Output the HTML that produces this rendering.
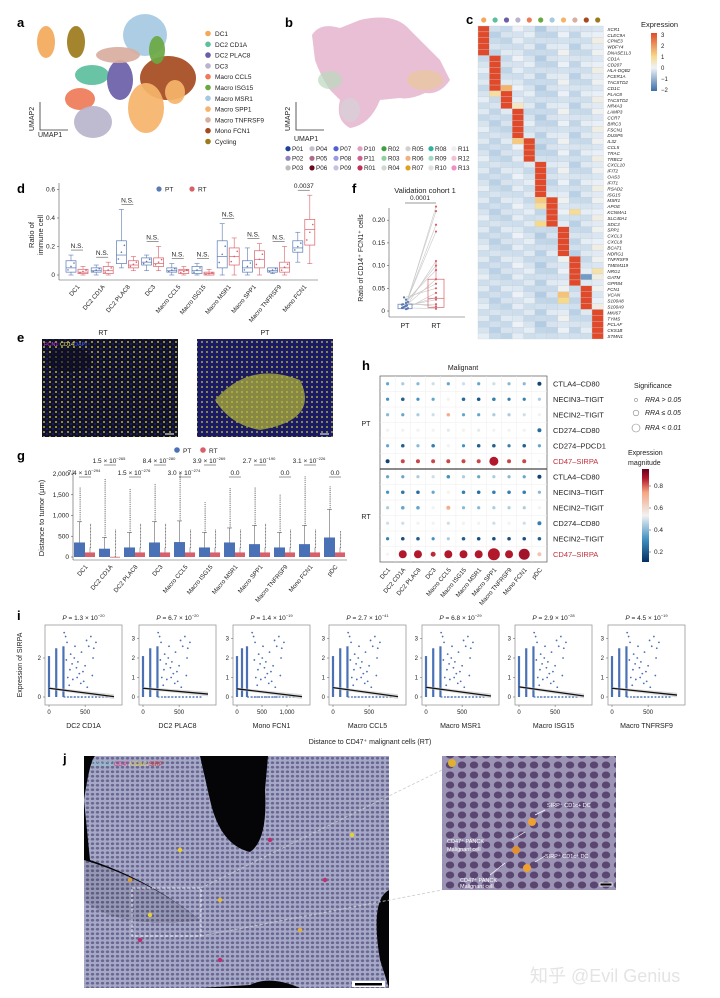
<!DOCTYPE html>
<html><head><meta charset="utf-8">
<style>
html,body{margin:0;padding:0;background:#fff;}
svg{display:block;font-family:"Liberation Sans","Noto Sans CJK SC",sans-serif;}
</style></head>
<body>
<svg id="fig" width="720" height="998" viewBox="0 0 720 998" xmlns="http://www.w3.org/2000/svg">
<defs>
<pattern id="cells" width="5" height="4.5" patternUnits="userSpaceOnUse"><rect width="5" height="4.5" fill="#a6a9c8"/><ellipse cx="2.5" cy="2.25" rx="1.7" ry="1.4" fill="#6b6790"/></pattern>
<pattern id="cells2" width="12" height="10" patternUnits="userSpaceOnUse"><rect width="12" height="10" fill="#9b94b4"/><ellipse cx="6" cy="5" rx="4.2" ry="3.5" fill="#5a4670"/></pattern>
<pattern id="dotsY" width="6" height="5" patternUnits="userSpaceOnUse"><rect width="6" height="5" fill="#10102a"/><circle cx="2" cy="2" r="1" fill="#b8b828"/><circle cx="5" cy="4" r="0.7" fill="#3030a0"/></pattern>
<pattern id="dotsY2" width="5" height="5" patternUnits="userSpaceOnUse"><rect width="5" height="5" fill="#1a1860"/><circle cx="2" cy="2" r="1.1" fill="#c8c830"/></pattern>
<linearGradient id="expGrad" x1="0" y1="1" x2="0" y2="0"><stop offset="0" stop-color="#3a6fa8"/><stop offset="0.4" stop-color="#eef3f8"/><stop offset="0.6" stop-color="#f7d98a"/><stop offset="1" stop-color="#e04a2a"/></linearGradient>
<linearGradient id="magGrad" x1="0" y1="1" x2="0" y2="0"><stop offset="0" stop-color="#053061"/><stop offset="0.25" stop-color="#4393c3"/><stop offset="0.5" stop-color="#f2f2f2"/><stop offset="0.75" stop-color="#f4a582"/><stop offset="0.9" stop-color="#b2182b"/><stop offset="1" stop-color="#67001f"/></linearGradient>
</defs>
<g id="root"></g>
</svg>
<script>
// ---------- data ----------
const aClusters=["DC1","DC2 CD1A","DC2 PLAC8","DC3","Macro CCL5","Macro ISG15","Macro MSR1","Macro SPP1","Macro TNFRSF9","Mono FCN1","Cycling"];
const aColors=["#f4a95a","#5cbf9d","#6a5ea8","#b9b4cc","#ee7b58","#6aa842","#a6c9e2","#f5b46a","#d8aea0","#a54a20","#9c7a1a"];
const bSamples=["P01","P02","P03","P04","P05","P06","P07","P08","P09","P10","P11","R01","R02","R03","R04","R05","R06","R07","R08","R09","R10","R11","R12","R13"];
const bColors=["#1f3f9a","#8c85bd","#bdbdbd","#c0c0cc","#b06a8a","#6a0a20","#5060d0","#9a9ae0","#c8c0e0","#e0a0c0","#d06090","#c0305a","#40a040","#90d0a0","#d0d8d0","#d0d0d0","#f0b080","#e0a020","#30b0a0","#a0d8c8","#e0e0e0","#eeeeee","#f4c0d0","#f090c0"];
const genes=["XCR1","CLEC9A","CPNE3","WDFY4","DNASE1L3","CD1A","CD207","HLA-DQB2","FCER1A","TACSTD2","CD1C","PLAC8","TACSTD2","NR4A3","LAMP3","CCR7","BIRC3","FSCN1","DUSP5","IL32","CCL5","TRAC","TRBC2","CXCL10","IFIT2","OAS3","IFIT1","RSAD2","ISG15","MSR1","APOE","KCNMA1","SLC40A1","SDC3","SPP1","CXCL3","CXCL8","BCAT1","NDRG1","TNFRSF9","TMEM119","NRG1","GATM","GPR84","FCN1","VCAN","S100A8","S100A9","MKI67","TYMS","PCLAF","CKS1B","STMN1"];
const geneCluster=[0,0,0,0,0,1,1,1,1,1,1,2,2,2,3,3,3,3,3,4,4,4,4,5,5,5,5,5,5,6,6,6,6,6,7,7,7,7,7,8,8,8,8,8,9,9,9,9,10,10,10,10,10];
const colBg=[-0.6,-0.8,-0.7,-0.5,-0.6,-0.9,-0.7,-0.4,-0.8,-0.6,-0.3];
const heatExtra=[[10,2,1.5],[11,1,0.8],[13,3,0.5],[19,3,1.2],[29,5,1.2],[30,5,0.8],[33,5,1.0],[31,8,0.9],[45,7,1.3],[46,7,1.0],[42,9,-1.5],[41,10,0.7]];
const dCats=["DC1","DC2 CD1A","DC2 PLAC8","DC3","Macro CCL5","Macro ISG15","Macro MSR1","Macro SPP1","Macro TNFRSF9","Mono FCN1"];
const dPT=[[0,0.02,0.05,0.1,0.14],[0,0.02,0.03,0.05,0.07],[0.05,0.08,0.14,0.24,0.46],[0.03,0.07,0.09,0.12,0.14],[0,0.02,0.03,0.05,0.08],[0,0.01,0.03,0.06,0.08],[0,0.05,0.13,0.24,0.36],[0,0.02,0.05,0.1,0.19],[0.01,0.02,0.03,0.05,0.05],[0.09,0.16,0.19,0.24,0.3]];
const dRT=[[0,0.01,0.02,0.04,0.06],[0,0.01,0.03,0.06,0.09],[0.03,0.05,0.07,0.1,0.13],[0.03,0.06,0.08,0.12,0.2],[0,0.01,0.03,0.04,0.06],[0,0,0.01,0.02,0.04],[0,0.07,0.13,0.19,0.26],[0,0.05,0.11,0.17,0.22],[0,0.02,0.05,0.09,0.2],[0.08,0.21,0.32,0.39,0.56]];
const dP=["N.S.","N.S.","N.S.","N.S.","N.S.","N.S.","N.S.","N.S.","N.S.","0.0037"];
const dTicks=[0,0.2,0.4,0.6];
const fPT=[0.005,0.008,0.01,0.012,0.006,0.015,0.02,0.01,0.025,0.03,0.004,0.009,0.011,0.014,0.018,0.007];
const fRT=[0.23,0.22,0.19,0.175,0.11,0.1,0.09,0.07,0.06,0.05,0.04,0.03,0.025,0.015,0.01,0.005];
const fTicks=[0,0.05,0.1,0.15,0.2];
const gCats=["DC1","DC2 CD1A","DC2 PLAC8","DC3","Macro CCL5","Macro ISG15","Macro MSR1","Macro SPP1","Macro TNFRSF9","Mono FCN1","pDC"];
const gPTq3=[350,200,230,350,360,230,350,310,230,310,470];
const gPTq1=[20,10,10,20,20,10,120,20,10,20,20];
const gPTwh=[850,470,590,850,870,590,700,760,590,760,1150];
const gPTmax=[1700,1900,1650,1750,2000,1350,1650,1700,1500,1950,1700];
const gRTq3=[110,5,110,110,110,110,110,110,110,110,110];
const gRTwh=[230,20,230,230,230,230,230,230,230,230,230];
const gRTmax=[800,680,800,800,680,680,680,800,680,680,640];
const gPv=[["7.4","−294",0],["1.5","−265",1],["1.5","−276",0],["8.4","−280",1],["3.0","−274",0],["3.9","−269",1],["0.0","",0],["2.7","−190",1],["0.0","",0],["3.1","−226",1],["0.0","",0]];
const gTicks=[0,500,1000,1500,2000];
const hCols=["DC1","DC2 CD1A","DC2 PLAC8","DC3","Macro CCL5","Macro ISG15","Macro MSR1","Macro SPP1","Macro TNFRSF9","Mono FCN1","pDC"];
const hRows=["CTLA4–CD80","NECIN3–TIGIT","NECIN2–TIGIT","CD274–CD80","CD274–PDCD1","CD47–SIRPA","CTLA4–CD80","NECIN3–TIGIT","NECIN2–TIGIT","CD274–CD80","NECIN2–TIGIT","CD47–SIRPA"];
const hMag=[
[0.3,0.4,0.35,0.45,0.3,0.45,0.3,0.45,0.35,0.35,0.05],
[0.25,0.12,0.25,0.3,0.5,0.15,0.1,0.2,0.2,0.2,0.4],
[0.35,0.3,0.4,0.45,0.72,0.3,0.3,0.4,0.4,0.45,0.5],
[0.5,0.5,0.5,0.5,0.48,0.5,0.48,0.5,0.5,0.5,0.15],
[0.3,0.12,0.35,0.2,0.5,0.25,0.12,0.12,0.2,0.12,0.3],
[0.05,0.85,0.85,0.85,0.85,0.85,0.85,0.9,0.85,0.85,0.5],
[0.3,0.3,0.4,0.45,0.25,0.4,0.3,0.4,0.35,0.3,0.05],
[0.25,0.18,0.15,0.3,0.5,0.2,0.15,0.2,0.2,0.2,0.35],
[0.4,0.3,0.3,0.5,0.72,0.35,0.35,0.4,0.4,0.4,0.5],
[0.45,0.45,0.5,0.5,0.45,0.5,0.5,0.45,0.5,0.45,0.2],
[0.2,0.08,0.12,0.25,0.4,0.12,0.08,0.08,0.08,0.08,0.12],
[0.5,0.9,0.9,0.88,0.9,0.9,0.9,0.9,0.9,0.92,0.65]];
const hSize=[
[1.6,1.6,1.6,1.6,1.6,1.6,1.6,1.6,1.6,1.6,2],
[1.6,1.8,1.6,1.6,1.6,1.8,1.8,1.8,1.6,1.6,1.6],
[1.6,1.6,1.6,1.6,1.8,1.6,1.6,1.6,1.6,1.6,1.6],
[1.6,1.6,1.6,1.6,1.6,1.6,1.6,1.6,1.6,1.6,2],
[1.6,1.8,1.6,1.8,1.6,1.6,1.8,1.8,1.6,1.8,1.6],
[2,2,2,2,2,2,2,4.5,2,2,1.2],
[1.6,1.6,1.6,1.6,1.8,1.6,1.6,1.6,1.6,1.6,2],
[1.6,1.8,1.8,1.6,1.6,1.8,1.8,1.8,1.8,1.8,1.6],
[1.6,1.8,1.8,1.6,2,1.6,1.6,1.6,1.6,1.6,1.6],
[1.6,1.6,1.6,1.6,1.6,1.6,1.6,1.6,1.6,1.6,2],
[1.6,1.8,1.8,1.6,1.6,1.8,1.8,1.8,1.8,1.8,1.8],
[1.5,4,4,2.5,4,4,4,6,4,5.5,2]];
const iCats=["DC2 CD1A","DC2 PLAC8","Mono FCN1","Macro CCL5","Macro MSR1","Macro ISG15","Macro TNFRSF9"];
const iP=[["1.3","−20"],["6.7","−20"],["1.4","−19"],["2.7","−41"],["6.8","−29"],["2.9","−28"],["4.5","−19"]];
const iXmax=[900,900,1300,900,900,900,900];
const iXticks=[[0,500],[0,500],[0,500,1000],[0,500],[0,500],[0,500],[0,500]];
const iYticks=[[0,2],[0,1,2,3],[0,1,2,3],[0,1,2,3],[0,1,2,3],[0,1,2,3],[0,1,2,3]];
const iStrips=[[0,2.1],[100,2.5],[200,2.6]];
const iLine=[[0.45,0.02],[0.45,0.15],[0.42,0.02],[0.48,0.02],[0.5,0.05],[0.52,0.05],[0.45,0.1]];
const iPts=[[210,3.3],[230,3.1],[250,2.8],[300,2.2],[320,1.7],[350,2.0],[380,1.5],[400,1.8],[420,1.2],[450,2.3],[480,0.8],[500,1.6],[520,2.9],[550,2.6],[580,3.1],[600,1.1],[620,2.5],[650,2.8],[260,1.0],[280,0.6],[330,0.9],[360,2.6],[440,0.7],[470,1.3],[530,0.5],[610,2.0],[240,1.9],[290,1.4],[390,1.0]];
const iZeroX=[300,350,400,450,500,550,600,650,700,750,800];

// ---------- helpers ----------
const NS="http://www.w3.org/2000/svg";
const root=document.getElementById("root");
function el(tag,attrs,parent,txt){const e=document.createElementNS(NS,tag);for(const k in attrs)e.setAttribute(k,attrs[k]);if(txt!==undefined)e.textContent=txt;(parent||root).appendChild(e);return e;}
function grp(name,parent){const g=el("g",{},parent);


return g;}
function txt(parent,x,y,s,size,opts){opts=opts||{};const t=el("text",Object.assign({x:x,y:y,"font-size":size,fill:"#222"},opts),parent,s);return t;}
function panelLabel(l,x,y){const g=grp("panel-label-"+l);txt(g,x,y,l,13,{"font-weight":"bold",fill:"#000"});}

// ---------- panel a ----------
panelLabel("a",17,27);
(function(){
 const g=grp("umap-a");
 const blobs=[[6,145,35,22,21],[9,168,78,28,22],[7,146,108,18,25],[5,157,50,8,14],[0,46,42,9,16],[10,76,42,9,16],[1,92,75,17,10],[2,120,80,13,20],[8,118,55,22,8],[4,80,99,15,11],[3,93,122,19,16],[7,175,92,10,12]];
 blobs.forEach((b,i)=>{const e=el("ellipse",{cx:b[1],cy:b[2],rx:b[3],ry:b[4],fill:aColors[b[0]],opacity:0.92},g);
 
 });
 el("path",{d:"M40 102 V130 H68",stroke:"#333",fill:"none","stroke-width":0.8},g);
 txt(g,38,137,"UMAP1",7);
 txt(g,34,131,"UMAP2",7,{transform:"rotate(-90 34 131)"});
 const lg=grp("legend-a");
 aClusters.forEach((c,i)=>{const y=36+i*10.8;
  const it=grp("legend-entry-"+c.toLowerCase().replace(/ /g,'-'),lg);
  el("circle",{cx:208,cy:y-2.5,r:2.8,fill:aColors[i]},it);txt(it,215,y,c,6.5);});
})();

// ---------- panel b ----------
panelLabel("b",285,27);
(function(){
 const g=grp("umap-b");
 el("path",{d:"M312 35 Q320 22 340 28 L360 20 Q395 12 410 30 Q425 45 440 60 L450 80 Q440 95 425 93 Q410 100 400 98 L380 100 Q370 125 350 128 Q335 120 340 100 L330 90 Q320 75 315 60 Z",fill:"#e5b8cf",opacity:0.9},g);
 el("ellipse",{cx:425,cy:80,rx:18,ry:10,fill:"#e9c79a",opacity:0.7},g);
 el("ellipse",{cx:330,cy:80,rx:12,ry:9,fill:"#b9d8bd",opacity:0.7},g);
 el("ellipse",{cx:350,cy:110,rx:10,ry:12,fill:"#d8d0d8",opacity:0.8},g);
 el("path",{d:"M296 102 V130 H324",stroke:"#333",fill:"none","stroke-width":0.8},g);
 txt(g,294,141,"UMAP1",7);
 txt(g,290,131,"UMAP2",7,{transform:"rotate(-90 290 131)"});
 const lg=grp("legend-b");
 const colX=[288,312,336,360,384,408,431,454];
 bSamples.forEach((s,i)=>{const c=Math.floor(i/3),r=i%3;const x=colX[c],y=151+r*9.6;
  const it=grp("legend-entry-"+s.toLowerCase(),lg);
  el("circle",{cx:x,cy:y-2.3,r:2.6,fill:bColors[i]},it);txt(it,x+4,y,s,6.3);});
})();

// ---------- panel c ----------
(function(){
 const g=grp("heatmap-c");
 txt(g,466,24,"c",13,{"font-weight":"bold",fill:"#000"});
 const x0=478,y0=26,cw=11.4,rh=(339-26)/genes.length;
 function hc(v){const s=[[-2,[58,111,168]],[-1,[170,200,225]],[0,[238,243,248]],[1,[247,217,138]],[2,[240,140,80]],[3,[224,74,42]]];
  v=Math.max(-2,Math.min(3,v));for(let i=0;i<s.length-1;i++){if(v<=s[i+1][0]){const t=(v-s[i][0])/(s[i+1][0]-s[i][0]);const c=s[i][1].map((a,k)=>Math.round(a+(s[i+1][1][k]-a)*t));return "rgb("+c+")";}}return "rgb(224,74,42)";}
 aColors.forEach((c,j)=>{const d=el("circle",{cx:x0+cw*j+cw/2,cy:20,r:2.6,fill:c},g);
  
  });
 genes.forEach((gn,i)=>{
  for(let j=0;j<11;j++){let v=geneCluster[i]===j?3:colBg[j]+((i*7+j*3)%5)*0.12;
   heatExtra.forEach(e=>{if(e[0]===i&&e[1]===j)v=e[2];});
   const r=el("rect",{x:x0+cw*j,y:y0+rh*i,width:cw,height:rh,fill:hc(v),stroke:"#c8ccd4","stroke-width":0.3},g);
   
   }
  txt(g,x0+cw*11+4,y0+rh*i+rh-1,gn,4.6,{"font-style":"italic"});
 });
 const lg=grp("expression-legend",g);
 txt(lg,641,27,"Expression",7.5);
 el("rect",{x:651,y:33,width:6,height:58,fill:"url(#expGrad)"},lg);
 [["3",35],["2",46],["1",57],["0",68],["−1",79],["−2",90]].forEach(t=>{txt(lg,661,t[1]+2,t[0],6);});
})();

// ---------- panel d ----------
panelLabel("d",17,193);
(function(){
 const g=grp("boxplot-d");
 const ax=59,y0=275,sc=28.5/0.2;const yv=v=>y0-v*sc;
 el("line",{x1:ax,y1:183,x2:ax,y2:y0+5,stroke:"#555","stroke-width":0.6},g);
 el("line",{x1:ax,y1:y0+5,x2:318,y2:y0+5,stroke:"#555","stroke-width":0.6},g);
 dTicks.forEach(t=>{el("line",{x1:ax-2,y1:yv(t),x2:ax,y2:yv(t),stroke:"#555","stroke-width":0.6},g);txt(g,ax-4,yv(t)+2,String(t),6.5,{"text-anchor":"end"});});
 txt(g,34,235,"Ratio of",7.5,{transform:"rotate(-90 34 235)","text-anchor":"middle"});
 txt(g,43,235,"immune cell",7.5,{transform:"rotate(-90 43 235)","text-anchor":"middle"});
 const lg=grp("legend-d",g);el("circle",{cx:159,cy:189,r:2.6,fill:"#5a7ab5"},lg);txt(lg,165,191.5,"PT",6.5);el("circle",{cx:192,cy:189,r:2.6,fill:"#d9606a"},lg);txt(lg,198,191.5,"RT",6.5);
 function box(d,cx,col,name){const b=grp(name,g);
  el("line",{x1:cx,y1:yv(d[0]),x2:cx,y2:yv(d[4]),stroke:col,"stroke-width":0.6},b);
  el("line",{x1:cx-2.5,y1:yv(d[4]),x2:cx+2.5,y2:yv(d[4]),stroke:col,"stroke-width":0.6},b);
  el("line",{x1:cx-2.5,y1:yv(d[0]),x2:cx+2.5,y2:yv(d[0]),stroke:col,"stroke-width":0.6},b);
  el("rect",{x:cx-5,y:yv(d[3]),width:10,height:Math.max(1,yv(d[1])-yv(d[3])),fill:"#fff",stroke:col,"stroke-width":0.7},b);
  el("line",{x1:cx-5,y1:yv(d[2]),x2:cx+5,y2:yv(d[2]),stroke:col,"stroke-width":0.7},b);
  [0.2,0.5,0.8].forEach((f,k)=>el("circle",{cx:cx-3+k*3,cy:yv(d[1]+(d[3]-d[1])*f),r:0.8,fill:col},b));}
 dCats.forEach((c,i)=>{const cx=77+i*25.2;
  box(dPT[i],cx-6,"#5a7ab5","box-pt-"+c.toLowerCase().replace(/ /g,'-'));
  box(dRT[i],cx+6,"#d9606a","box-rt-"+c.toLowerCase().replace(/ /g,'-'));
  const top=yv(Math.max(dPT[i][4],dRT[i][4]))-5;
  el("line",{x1:cx-6,y1:top,x2:cx+6,y2:top,stroke:"#333","stroke-width":0.5},g);
  txt(g,cx,top-2,dP[i],6.5,{"text-anchor":"middle"});
  txt(g,cx+3,y0+12,c,6.2,{"text-anchor":"end",transform:"rotate(-50 "+(cx+3)+" "+(y0+12)+")"});
 });
})();

// ---------- panel f ----------
panelLabel("f",352,193);
(function(){
 const g=grp("paired-plot-f");
 const ax=389,y0=311,sc=22.7/0.05;const yv=v=>y0-v*sc;const xPT=405,xRT=436;
 txt(g,425,193,"Validation cohort 1",7.5,{"text-anchor":"middle"});
 el("line",{x1:xPT,y1:203,x2:xRT,y2:203,stroke:"#333","stroke-width":0.5},g);txt(g,420,200,"0.0001",6.5,{"text-anchor":"middle"});
 el("line",{x1:ax,y1:208,x2:ax,y2:317,stroke:"#555","stroke-width":0.6},g);
 el("line",{x1:ax,y1:317,x2:465,y2:317,stroke:"#555","stroke-width":0.6},g);
 fTicks.forEach(t=>{el("line",{x1:ax-2,y1:yv(t),x2:ax,y2:yv(t),stroke:"#555","stroke-width":0.6},g);txt(g,ax-4,yv(t)+2,t===0?"0":t.toFixed(2),6.5,{"text-anchor":"end"});});
 txt(g,363,258,"Ratio of CD14⁺ FCN1⁺ cells",7,{transform:"rotate(-90 363 258)","text-anchor":"middle"});
 fPT.forEach((p,i)=>{const l=el("line",{x1:xPT,y1:yv(p),x2:xRT,y2:yv(fRT[i]),stroke:"#c8c8c8","stroke-width":0.6},g);
  
  });
 el("rect",{x:xPT-7,y:yv(0.015),width:14,height:yv(0.005)-yv(0.015),fill:"#fff",stroke:"#5a7ab5","stroke-width":0.7},g);
 el("rect",{x:xRT-8,y:yv(0.07),width:16,height:yv(0.008)-yv(0.07),fill:"none",stroke:"#d9606a","stroke-width":0.7},g);
 el("line",{x1:xRT-8,y1:yv(0.028),x2:xRT+8,y2:yv(0.028),stroke:"#d9606a","stroke-width":0.7},g);
 el("line",{x1:xRT,y1:yv(0.07),x2:xRT,y2:yv(0.113),stroke:"#d9606a","stroke-width":0.6},g);
 fPT.forEach(p=>el("circle",{cx:xPT+((p*1000)%7-3),cy:yv(p),r:1.1,fill:"#5a7ab5"},g));
 fRT.forEach(p=>el("circle",{cx:xRT,cy:yv(p),r:1.1,fill:"#d9606a"},g));
 txt(g,xPT,328,"PT",7,{"text-anchor":"middle"});txt(g,xRT,328,"RT",7,{"text-anchor":"middle"});
})();

// ---------- panel e ----------
panelLabel("e",17,342);
(function(){
 const g=grp("images-e");
 txt(g,103,335,"RT",7,{"text-anchor":"middle"});txt(g,265,335,"PT",7,{"text-anchor":"middle"});
 const r1=el("rect",{x:42,y:339,width:136,height:98,fill:"url(#dotsY)"},g);
 
 el("ellipse",{cx:70,cy:360,rx:22,ry:12,fill:"#0c0c22",opacity:0.6},g);
 const r2=el("rect",{x:197,y:339,width:136,height:98,fill:"#181a70"},g);
 
 el("rect",{x:197,y:339,width:136,height:98,fill:"url(#dotsY2)",opacity:0.7},g);
 el("path",{d:"M215 400 Q250 360 300 380 Q320 420 260 430 Q230 425 215 400Z",fill:"#b8b838",opacity:0.7},g);
 txt(g,44,346,"FCN1",5.5,{fill:"#d040d0"});txt(g,60,346,"CD14",5.5,{fill:"#e0e060"});txt(g,74,346,"DAPI",5.5,{fill:"#4060e0"});
 el("line",{x1:165,y1:434,x2:174,y2:434,stroke:"#fff","stroke-width":1},g);
 el("line",{x1:320,y1:434,x2:329,y2:434,stroke:"#fff","stroke-width":1},g);
})();

// ---------- panel g ----------
panelLabel("g",17,460);
(function(){
 const g=grp("boxplot-g");
 const ax=73,y0=557,sc=83/2000;const yv=v=>y0-v*sc;
 const lg=grp("legend-g",g);el("circle",{cx:177,cy:450,r:2.8,fill:"#4a70b5"},lg);txt(lg,183,453,"PT",6.5);el("circle",{cx:203,cy:450,r:2.8,fill:"#d9606a"},lg);txt(lg,209,453,"RT",6.5);
 el("line",{x1:ax,y1:470,x2:ax,y2:560,stroke:"#555","stroke-width":0.6},g);
 el("line",{x1:ax,y1:560,x2:347,y2:560,stroke:"#555","stroke-width":0.6},g);
 gTicks.forEach(t=>{el("line",{x1:ax-2,y1:yv(t),x2:ax,y2:yv(t),stroke:"#555","stroke-width":0.6},g);txt(g,ax-4,yv(t)+2,t.toLocaleString("en-US"),6.5,{"text-anchor":"end"});});
 txt(g,44,518,"Distance to tumor (μm)",7.5,{transform:"rotate(-90 44 518)","text-anchor":"middle"});
 gCats.forEach((c,i)=>{const cx=85+i*25;const b=grp("box-"+c.toLowerCase().replace(/ /g,'-'),g);
  for(let v=gPTwh[i];v<=gPTmax[i];v+=45)el("circle",{cx:cx-5.5+((v/45)%2?0.6:-0.6),cy:yv(v),r:0.55,fill:"#555"},b);
  for(let v=gRTwh[i];v<=gRTmax[i];v+=35)el("circle",{cx:cx+5+((v/35)%2?0.6:-0.6),cy:yv(v),r:0.5,fill:"#555"},b);
  el("line",{x1:cx-5.5,y1:yv(0),x2:cx-5.5,y2:yv(gPTwh[i]),stroke:"#666","stroke-width":0.6},b);
  el("line",{x1:cx-8,y1:yv(gPTwh[i]),x2:cx-3,y2:yv(gPTwh[i]),stroke:"#666","stroke-width":0.6},b);
  el("rect",{x:cx-11,y:yv(gPTq3[i]),width:11,height:yv(0)-yv(gPTq3[i]),fill:"#4a70b5"},b);
  el("line",{x1:cx+5,y1:yv(0),x2:cx+5,y2:yv(gRTwh[i]),stroke:"#666","stroke-width":0.6},b);
  el("rect",{x:cx,y:yv(gRTq3[i]),width:10,height:Math.max(0.8,yv(0)-yv(gRTq3[i])),fill:"#d9606a"},b);
  const p=gPv[i];const by=p[2]?463:475;
  el("line",{x1:cx-6,y1:by+2,x2:cx+6,y2:by+2,stroke:"#333","stroke-width":0.5},b);
  if(p[1]){const t=txt(b,cx-1,by,p[0]+" × 10",6.5,{"text-anchor":"middle"});el("tspan",{dy:-3,"font-size":4},t,p[1]);}
  else txt(b,cx,by,p[0],6.5,{"text-anchor":"middle"});
  txt(g,cx+3,567,c,6.2,{"text-anchor":"end",transform:"rotate(-50 "+(cx+3)+" 567)"});
 });
})();

// ---------- panel h ----------
panelLabel("h",362,370);
(function(){
 const g=grp("dotplot-h");
 const gx=380,gy=376,gw=167,gh=186,cw=gw/11,rh=gh/12;
 txt(g,463,370,"Malignant",7,{"text-anchor":"middle"});
 el("rect",{x:gx,y:gy,width:gw,height:gh,fill:"#fff",stroke:"#555","stroke-width":0.7},g);
 for(let j=1;j<11;j++)el("line",{x1:gx+cw*j,y1:gy,x2:gx+cw*j,y2:gy+gh,stroke:"#eee","stroke-width":0.5},g);
 for(let i=1;i<12;i++)el("line",{x1:gx,y1:gy+rh*i,x2:gx+gw,y2:gy+rh*i,stroke:"#eee","stroke-width":0.5},g);
 el("line",{x1:gx,y1:gy+rh*6,x2:gx+gw,y2:gy+rh*6,stroke:"#444","stroke-width":1.2},g);
 function cm(v){const s=[[0,[5,48,97]],[0.25,[67,147,195]],[0.5,[242,242,242]],[0.75,[244,165,130]],[0.9,[178,24,43]],[1,[103,0,31]]];
  for(let i=0;i<s.length-1;i++){if(v<=s[i+1][0]){const t=(v-s[i][0])/(s[i+1][0]-s[i][0]);return "rgb("+s[i][1].map((a,k)=>Math.round(a+(s[i+1][1][k]-a)*t))+")";}}return "rgb(103,0,31)";}
 hRows.forEach((r,i)=>{const cy=gy+rh*i+rh/2;
  hCols.forEach((c,j)=>{const d=el("circle",{cx:gx+cw*j+cw/2,cy:cy,r:hSize[i][j],fill:cm(hMag[i][j])},g);
   
   });
  txt(g,553,cy+2.5,r,7.5,{fill:r.startsWith("CD47")?"#c0303a":"#222"});
 });
 hCols.forEach((c,j)=>{const x=gx+cw*j+cw/2+3;txt(g,x,570,c,6.2,{"text-anchor":"end",transform:"rotate(-50 "+x+" 570)"});});
 txt(g,366,426,"PT",7,{"text-anchor":"middle"});txt(g,366,519,"RT",7,{"text-anchor":"middle"});
 const lg=grp("significance-legend",g);
 txt(lg,634,388,"Significance",7);
 [["RRA > 0.05",1.6,402],["RRA ≤ 0.05",2.8,415],["RRA < 0.01",4,430]].forEach(s=>{el("circle",{cx:636,cy:s[2]-2,r:s[1],fill:"none",stroke:"#888","stroke-width":0.6},lg);txt(lg,645,s[2],s[0],7,{"font-style":"italic"});});
 const cb=grp("magnitude-colorbar",g);
 txt(cb,628,455,"Expression",7);txt(cb,628,465,"magnitude",7);
 el("rect",{x:642,y:469,width:7,height:93,fill:"url(#magGrad)"},cb);
 [["0.8",486],["0.6",508],["0.4",530],["0.2",552]].forEach(t=>{el("line",{x1:649,y1:t[1],x2:651,y2:t[1],stroke:"#333","stroke-width":0.5},cb);txt(cb,654,t[1]+2,t[0],6.5);});
})();

// ---------- panel i ----------
panelLabel("i",17,620);
(function(){
 const g=grp("scatter-i");
 const px=[45,139,233,329,422,515,608],pw=77,top=625,bot=705,y0=697,ys=19.5;
 txt(g,22,665,"Expression of SIRPA",7,{transform:"rotate(-90 22 665)","text-anchor":"middle"});
 iCats.forEach((c,k)=>{const p=grp("scatter-panel-"+c.toLowerCase().replace(/ /g,'-'),g);
  const x0=px[k]+4,xs=(pw-12)/iXmax[k];const xv=v=>x0+v*xs;const yv=v=>y0-v*ys;
  el("rect",{x:px[k],y:top,width:pw,height:bot-top,fill:"#fff",stroke:"#999","stroke-width":0.8},p);
  const t=txt(p,px[k]+pw/2,620,"",6.5,{"text-anchor":"middle"});el("tspan",{"font-style":"italic"},t,"P");el("tspan",{},t," = "+iP[k][0]+" × 10");el("tspan",{dy:-3,"font-size":4},t,iP[k][1]);
  iStrips.forEach(s=>{el("line",{x1:xv(s[0]),y1:yv(0),x2:xv(s[0]),y2:yv(s[1]),stroke:"#4a70b5","stroke-width":2.2},p);});
  iZeroX.forEach(v=>{if(v<iXmax[k])el("circle",{cx:xv(v),cy:yv(0),r:0.8,fill:"#4a70b5"},p);});
  el("line",{x1:xv(200),y1:yv(0),x2:xv(iXmax[k]*0.9),y2:yv(0),stroke:"#4a70b5","stroke-width":1.2,"stroke-dasharray":"2 1.5"},p);
  iPts.forEach(q=>{const xx=q[0]*(iXmax[k]/900);el("circle",{cx:xv(xx),cy:yv(q[1]),r:0.9,fill:"#4a70b5"},p);});
  el("path",{d:"M"+xv(0)+" "+yv(iLine[k][0]+0.06)+" L"+xv(iXmax[k])+" "+yv(iLine[k][1]+0.12)+" L"+xv(iXmax[k])+" "+yv(iLine[k][1]-0.12)+" L"+xv(0)+" "+yv(iLine[k][0]-0.06)+"Z",fill:"#ccc",opacity:0.7},p);
  el("line",{x1:xv(0),y1:yv(iLine[k][0]),x2:xv(iXmax[k]),y2:yv(iLine[k][1]),stroke:"#111","stroke-width":1.3},p);
  iYticks[k].forEach(v=>{el("line",{x1:px[k]-2,y1:yv(v),x2:px[k],y2:yv(v),stroke:"#555","stroke-width":0.5},p);txt(p,px[k]-4,yv(v)+2,String(v),6,{"text-anchor":"end"});});
  iXticks[k].forEach(v=>{el("line",{x1:xv(v),y1:bot,x2:xv(v),y2:bot+2,stroke:"#555","stroke-width":0.5},p);txt(p,xv(v),714,v.toLocaleString("en-US"),6,{"text-anchor":"middle"});});
  txt(p,px[k]+pw/2,728,c,7,{"text-anchor":"middle"});
 });
 txt(g,370,744,"Distance to CD47⁺ malignant cells (RT)",7,{"text-anchor":"middle"});
})();

// ---------- panel j ----------
panelLabel("j",63,763);
(function(){
 const g=grp("images-j");
 const m=el("rect",{x:84,y:756,width:305,height:232,fill:"#050508"},g);
 
 el("path",{d:"M84 800 Q90 760 95 756 L200 756 L210 800 Q220 845 250 852 Q268 840 265 790 L268 756 L389 756 L389 890 Q370 900 380 960 L389 988 L300 988 Q270 975 250 985 L200 988 L84 988 L84 900 Q120 930 200 920 Q150 880 90 860 Z",fill:"url(#cells)"},g);
 el("path",{d:"M84 860 Q150 880 200 920 Q120 930 84 900Z",fill:"url(#cells)",opacity:0.9},g);
 [[180,850,"#e8d030"],[150,915,"#e8d030"],[220,900,"#e0c040"],[300,930,"#e0b040"],[352,835,"#e8d030"],[130,880,"#d8a040"],[140,940,"#c03070"],[220,960,"#c03070"],[270,840,"#c03070"],[325,880,"#c03070"]].forEach(s=>el("circle",{cx:s[0],cy:s[1],r:2.2,fill:s[2]},g));
 el("rect",{x:132,y:888,width:69,height:48,fill:"none",stroke:"#fff","stroke-width":0.8,"stroke-dasharray":"3 2"},g);
 el("line",{x1:201,y1:888,x2:442,y2:770,stroke:"#ccc","stroke-width":0.8,"stroke-dasharray":"3 2"},g);
 el("line",{x1:201,y1:936,x2:442,y2:890,stroke:"#ccc","stroke-width":0.8,"stroke-dasharray":"3 2"},g);
 el("rect",{x:352,y:981,width:33,height:6,fill:"#fff"},g);el("rect",{x:355,y:983,width:27,height:2.5,fill:"#000"},g);
 const t=txt(g,92,766,"PANCK/",6,{fill:"#7fd0d0"});el("tspan",{fill:"#e04080"},t,"CD47");el("tspan",{fill:"#ddd"},t,"/");el("tspan",{fill:"#e8d030"},t,"CD1C");el("tspan",{fill:"#ddd"},t,"/");el("tspan",{fill:"#e03030"},t,"SIRP");
 const ins=el("rect",{x:442,y:756,width:174,height:134,fill:"url(#cells2)"},g);
 
 [[532,822,"#f0a030"],[516,850,"#e09030"],[527,868,"#f0a030"],[452,763,"#e0b030"]].forEach(s=>el("circle",{cx:s[0],cy:s[1],r:4,fill:s[2]},g));
 [["SIRP⁺ CD1c+ DC",547,807],["CD47⁺ PANCK",447,843],["Malignant cell",447,851],["SIRP⁺ CD1c⁺ DC",545,858],["CD47⁺ PANCK",460,882],["Malignant cell",460,890-2]].forEach(s=>txt(g,s[1],s[2],s[0],5.5,{fill:"#fff"}));
 el("line",{x1:545,y1:810,x2:535,y2:815,stroke:"#fff","stroke-width":0.7},g);
 el("line",{x1:512,y1:840,x2:525,y2:832,stroke:"#fff","stroke-width":0.7},g);
 el("line",{x1:545,y1:856,x2:535,y2:862,stroke:"#fff","stroke-width":0.7},g);
 el("line",{x1:490,y1:875,x2:505,y2:863,stroke:"#fff","stroke-width":0.7},g);
 el("rect",{x:600,y:883,width:12,height:3,fill:"#000",stroke:"#fff","stroke-width":0.8},g);
 const w=txt(g,530,982,"知乎 @Evil Genius",18,{fill:"#e4e4e4"});
 
})();
</script>
</body></html>
